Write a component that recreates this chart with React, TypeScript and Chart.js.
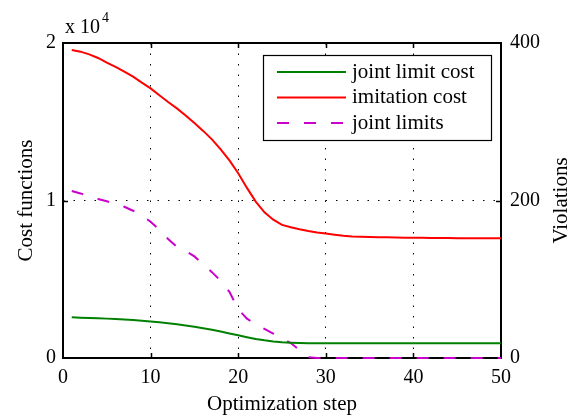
import React, { useEffect, useRef } from "react";
import { Chart, registerables } from "chart.js";

Chart.register(...registerables);

// Optimization steps
const steps = [
  1, 2, 3, 4, 5, 6, 7, 8, 9, 10,
  11, 12, 13, 14, 15, 16, 17, 18, 19, 20,
  21, 22, 23, 24, 25, 26, 27, 28, 29, 30,
  31, 32, 33, 34, 35, 36, 37, 38, 39, 40,
  41, 42, 43, 44, 45, 46, 47, 48, 49, 50,
];

// Cost functions (x 10^4)
const jointLimitCost = [
  0.258, 0.256, 0.254, 0.252, 0.250, 0.248, 0.245, 0.241, 0.237, 0.232,
  0.227, 0.221, 0.214, 0.206, 0.198, 0.189, 0.179, 0.168, 0.156, 0.144,
  0.132, 0.121, 0.112, 0.105, 0.100, 0.097, 0.095, 0.093, 0.093, 0.093,
  0.093, 0.093, 0.093, 0.093, 0.093, 0.093, 0.093, 0.093, 0.093, 0.093,
  0.093, 0.093, 0.093, 0.093, 0.093, 0.093, 0.093, 0.093, 0.093, 0.093,
];

const imitationCost = [
  1.956, 1.945, 1.928, 1.905, 1.875, 1.848, 1.818, 1.786, 1.748, 1.712,
  1.668, 1.625, 1.585, 1.540, 1.492, 1.442, 1.388, 1.325, 1.255, 1.173,
  1.080, 0.993, 0.925, 0.878, 0.845, 0.830, 0.817, 0.806, 0.797, 0.790,
  0.783, 0.776, 0.772, 0.770, 0.768, 0.767, 0.766, 0.765, 0.764, 0.763,
  0.763, 0.762, 0.762, 0.762, 0.761, 0.761, 0.761, 0.760, 0.760, 0.760,
];

// Violations
const jointLimits = [
  212, 209, 205, 202, 199, 196, 192, 187, 181, 173,
  163, 151, 141, 136, 129, 119, 109, 98, 84, 62,
  50, 43, 37, 31, 25, 19, 10, 1, 0, 0,
  0, 0, 0, 0, 0, 0, 0, 0, 0, 0,
  0, 0, 0, 0, 0, 0, 0, 0, 0, 0,
];

const seriesLabels = ["joint limit cost", "imitation cost", "joint limits"];
const xTitle = "Optimization step";
const yTitle = "Cost functions";
const y2Title = "Violations";
const exponentBase = "x 10";
const exponentPower = "4";

const FONT = "'Liberation Serif', 'Times New Roman', serif";

const decorPlugin = {
  id: "decor",
  beforeDatasetsDraw(chart: any) {
    const ctx = chart.ctx;
    const { left, right, top, bottom } = chart.chartArea;
    ctx.save();
    // axes box
    ctx.strokeStyle = "#000";
    ctx.lineWidth = 2;
    ctx.setLineDash([]);
    ctx.strokeRect(left, top, right - left, bottom - top);

    // inward tick marks
    ctx.lineWidth = 1.5;
    const xs = chart.scales.x;
    xs.ticks.forEach((t: any) => {
      if (t.value <= xs.min || t.value >= xs.max) return;
      const px = Math.round(xs.getPixelForValue(t.value)) + 0.5;
      ctx.beginPath();
      ctx.moveTo(px, bottom);
      ctx.lineTo(px, bottom - 5);
      ctx.moveTo(px, top);
      ctx.lineTo(px, top + 5);
      ctx.stroke();
    });
    const ys = chart.scales.y;
    ys.ticks.forEach((t: any) => {
      if (t.value <= ys.min || t.value >= ys.max) return;
      const py = Math.round(ys.getPixelForValue(t.value)) + 0.5;
      ctx.beginPath();
      ctx.moveTo(left, py);
      ctx.lineTo(left + 5, py);
      ctx.stroke();
    });
    const y2s = chart.scales.y2;
    y2s.ticks.forEach((t: any) => {
      if (t.value <= y2s.min || t.value >= y2s.max) return;
      const py = Math.round(y2s.getPixelForValue(t.value)) + 0.5;
      ctx.beginPath();
      ctx.moveTo(right, py);
      ctx.lineTo(right - 5, py);
      ctx.stroke();
    });
    ctx.restore();
  },
  afterDraw(chart: any) {
    const ctx = chart.ctx;
    const { left, right, top, bottom } = chart.chartArea;
    ctx.save();
    // axis titles
    ctx.fillStyle = "#000";
    ctx.font = `21px ${FONT}`;
    ctx.textAlign = "center";
    ctx.textBaseline = "middle";
    const midY = (top + bottom) / 2;
    ctx.save();
    ctx.translate(left - 37, midY);
    ctx.rotate(-Math.PI / 2);
    ctx.fillText(yTitle, 0, 0);
    ctx.restore();
    ctx.save();
    ctx.translate(right + 60, midY);
    ctx.rotate(-Math.PI / 2);
    ctx.fillText(y2Title, 0, 0);
    ctx.restore();
    ctx.fillText(xTitle, (left + right) / 2, bottom + 46);

    // exponent label
    ctx.textAlign = "left";
    ctx.textBaseline = "alphabetic";
    ctx.font = `20px ${FONT}`;
    ctx.fillText(exponentBase, left + 2, top - 10);
    const w = ctx.measureText(exponentBase).width;
    ctx.font = `14px ${FONT}`;
    ctx.fillText(exponentPower, left + 4 + w, top - 21);

    // legend
    const bw = 228;
    const bh = 85;
    const bx = right - 10 - bw;
    const by = top + 12;
    ctx.fillStyle = "#fff";
    ctx.fillRect(bx, by, bw, bh);
    ctx.strokeStyle = "#000";
    ctx.lineWidth = 1.2;
    ctx.strokeRect(bx + 0.5, by + 0.5, bw, bh);
    ctx.font = `21px ${FONT}`;
    ctx.textBaseline = "middle";
    chart.data.datasets.forEach((ds: any, i: number) => {
      const ry = by + 17 + i * 25.5;
      ctx.strokeStyle = ds.borderColor;
      ctx.lineWidth = ds.borderWidth;
      ctx.setLineDash(ds.borderDash || []);
      ctx.beginPath();
      ctx.moveTo(bx + 14, ry);
      ctx.lineTo(bx + 83, ry);
      ctx.stroke();
      ctx.setLineDash([]);
      ctx.fillStyle = "#000";
      ctx.fillText(ds.label, bx + 89, ry);
    });
    ctx.restore();
  },
};

export default function App() {
  const ref = useRef<HTMLCanvasElement>(null);

  useEffect(() => {
    document.body.style.margin = "0";
    if (!ref.current) return;
    const toXY = (vals: number[]) => steps.map((x, i) => ({ x, y: vals[i] }));
    const tickFont = { family: FONT, size: 20 };
    const dotted = [1.5, 9];
    const chart = new Chart(ref.current, {
      type: "line",
      data: {
        datasets: [
          {
            label: seriesLabels[0],
            data: toXY(jointLimitCost),
            borderColor: "#008000",
            borderWidth: 2,
            pointRadius: 0,
            clip: false,
            yAxisID: "y",
          },
          {
            label: seriesLabels[1],
            data: toXY(imitationCost),
            borderColor: "#ff0000",
            borderWidth: 2,
            pointRadius: 0,
            clip: false,
            yAxisID: "y",
          },
          {
            label: seriesLabels[2],
            data: toXY(jointLimits),
            borderColor: "#cc00cc",
            borderWidth: 2,
            borderDash: [12, 15],
            pointRadius: 0,
            clip: false,
            yAxisID: "y2",
          },
        ],
      },
      options: {
        animation: false,
        responsive: false,
        devicePixelRatio: 1,
        layout: { padding: { top: 43, left: 0, right: 0, bottom: 0 } },
        plugins: { legend: { display: false }, tooltip: { enabled: false } },
        scales: {
          x: {
            type: "linear",
            min: 0,
            max: 50,
            ticks: { stepSize: 10, font: tickFont, color: "#000", padding: 8, maxRotation: 0 },
            grid: {
              drawTicks: false,
              lineWidth: 1,
              color: (c: any) =>
                c.tick && (c.tick.value === 0 || c.tick.value === 50) ? "rgba(0,0,0,0)" : "#000",
            },
            border: { display: false, dash: dotted },
            afterFit: (s: any) => {
              s.height = 58;
            },
          },
          y: {
            type: "linear",
            position: "left",
            min: 0,
            max: 2,
            ticks: { stepSize: 1, font: tickFont, color: "#000", padding: 7, callback: (v: any) => String(v) },
            grid: {
              drawTicks: false,
              lineWidth: 1,
              color: (c: any) => (c.tick && c.tick.value === 1 ? "#000" : "rgba(0,0,0,0)"),
            },
            border: { display: false, dash: dotted },
            afterFit: (s: any) => {
              s.width = 63;
            },
          },
          y2: {
            type: "linear",
            position: "right",
            min: 0,
            max: 400,
            ticks: { stepSize: 200, font: tickFont, color: "#000", padding: 9, callback: (v: any) => String(v) },
            grid: { display: false, drawTicks: false },
            border: { display: false },
            afterFit: (s: any) => {
              s.width = 75;
            },
          },
        },
      },
      plugins: [decorPlugin],
    } as any);
    return () => chart.destroy();
  }, []);

  return (
    <div style={{ width: 576, height: 416 }}>
      <canvas ref={ref} width={576} height={416} style={{ display: "block" }} />
    </div>
  );
}
